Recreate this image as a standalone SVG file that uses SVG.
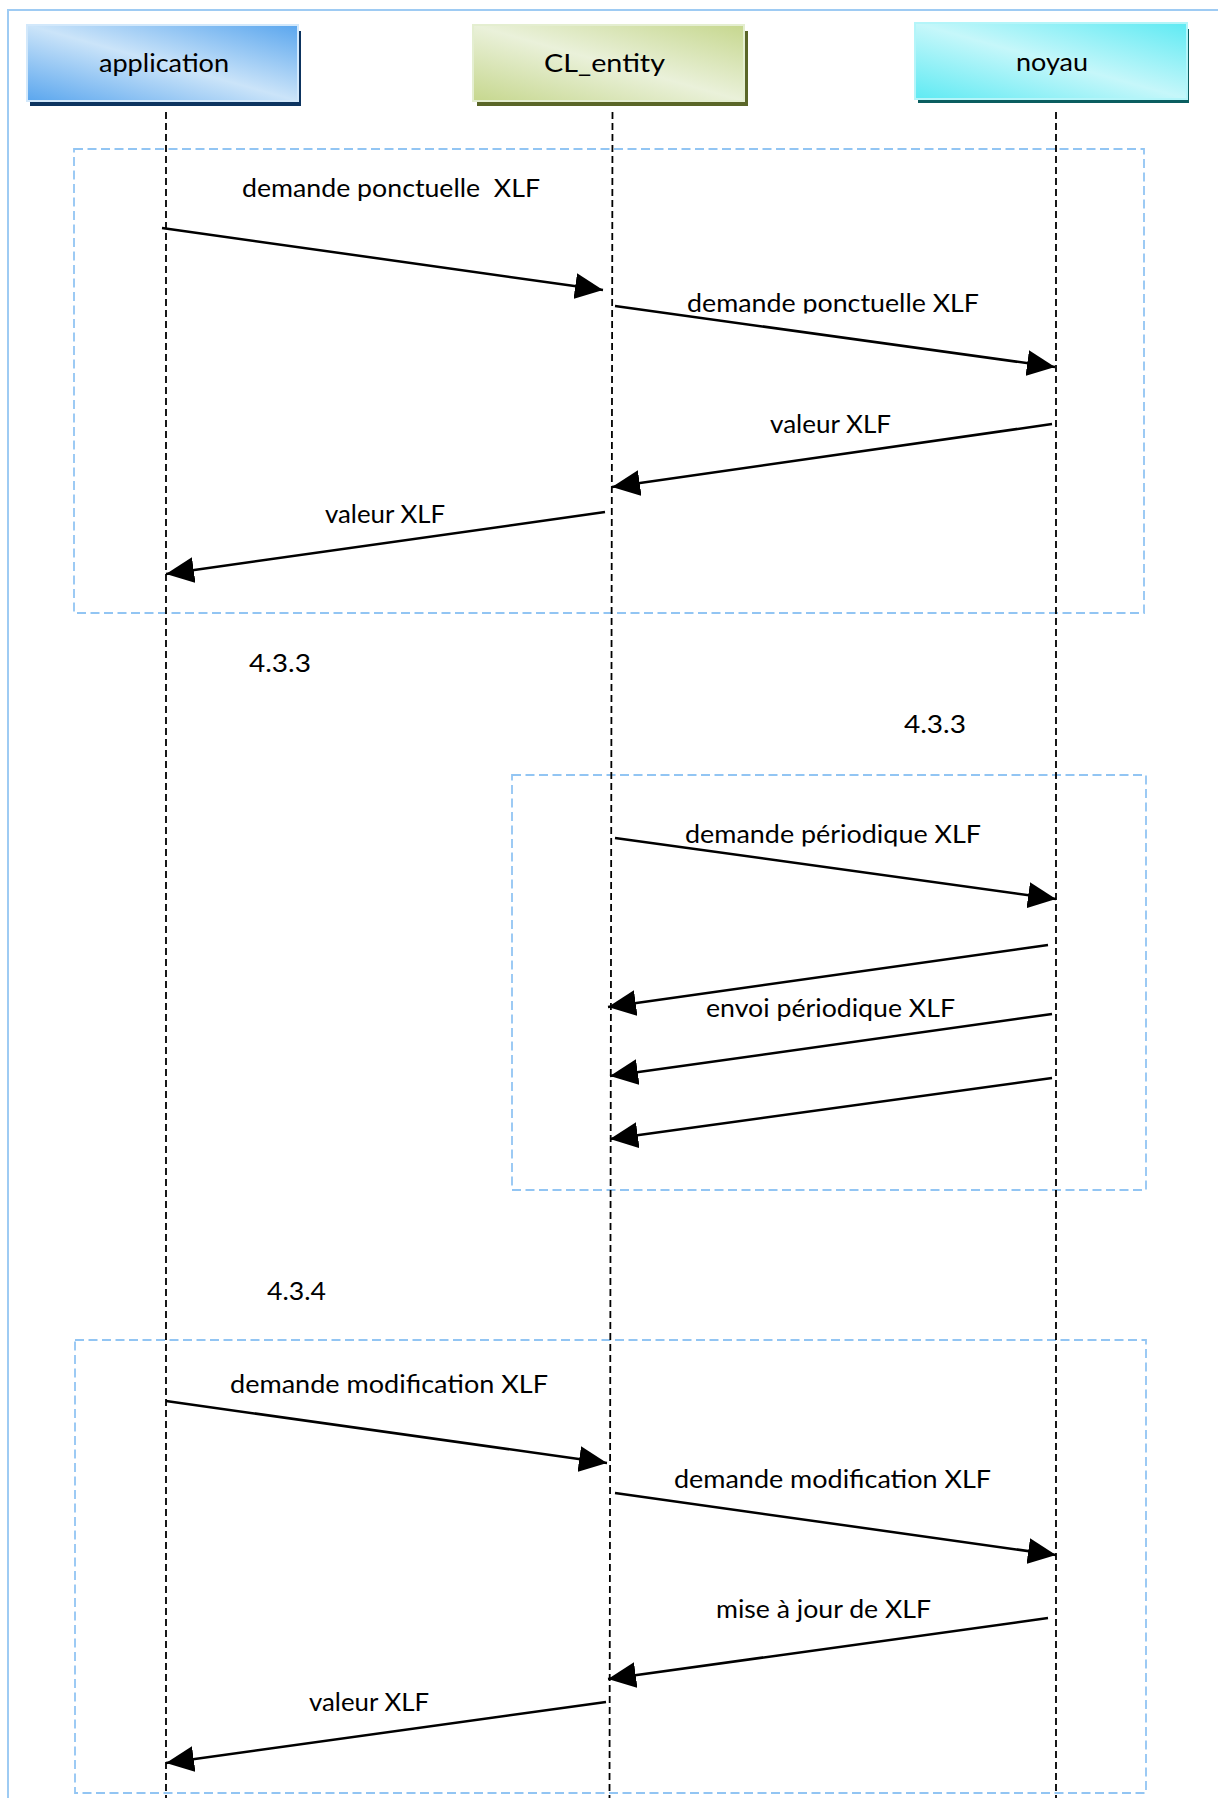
<svg xmlns="http://www.w3.org/2000/svg" width="1218" height="1798" viewBox="0 0 1218 1798">
<defs>
<linearGradient id="gApp" x1="0" y1="1" x2="1" y2="0"><stop offset="0" stop-color="#5aa6ee"/><stop offset="0.5" stop-color="#cbe4f9"/><stop offset="1" stop-color="#5aa6ee"/></linearGradient>
<linearGradient id="gCl" x1="0" y1="1" x2="1" y2="0"><stop offset="0" stop-color="#c6d78e"/><stop offset="0.5" stop-color="#eaf1da"/><stop offset="1" stop-color="#c6d78e"/></linearGradient>
<linearGradient id="gNo" x1="0" y1="1" x2="1" y2="0"><stop offset="0" stop-color="#5eeaf3"/><stop offset="0.5" stop-color="#c6f7fa"/><stop offset="1" stop-color="#5eeaf3"/></linearGradient>
<marker id="ah" markerUnits="userSpaceOnUse" viewBox="0 0 28 26" markerWidth="28" markerHeight="26" refX="28" refY="13" orient="auto"><path d="M0,0 L28,13 L0,26 Z" fill="#000"/></marker>
<clipPath id="c1"><rect x="600" y="270" width="450" height="43.5"/></clipPath>
<clipPath id="c2"><rect x="600" y="800" width="450" height="46.5"/></clipPath>
<clipPath id="c3"><rect x="650" y="1580" width="400" height="42"/></clipPath>
</defs>
<style>
text{font-family:Lato,"Open Sans","Liberation Sans",sans-serif;font-size:25px;fill:#000}
.life{stroke:#000;stroke-width:1.8;stroke-dasharray:7 4;fill:none}
.frag{fill:none;stroke:#92c5f3;stroke-width:1.8;stroke-dasharray:9 4.5}
.msg{stroke:#000;stroke-width:2.5;fill:none;marker-end:url(#ah)}
</style>
<rect id="frame" x="8" y="10" width="1230" height="1810" fill="none" stroke="#9ecbf3" stroke-width="2"/>
<g id="fragment1"><rect class="frag" x="74" y="149" width="1070" height="464"/></g>
<g id="fragment2"><rect class="frag" x="512" y="775" width="634" height="415"/></g>
<g id="fragment3"><rect class="frag" x="75" y="1340" width="1071" height="453"/></g>
<text x="249" y="672" textLength="62" lengthAdjust="spacingAndGlyphs">4.3.3</text>
<text x="904" y="733" textLength="62" lengthAdjust="spacingAndGlyphs">4.3.3</text>
<text x="267" y="1300" textLength="59" lengthAdjust="spacingAndGlyphs">4.3.4</text>
<g id="application">
<rect x="30" y="31" width="271" height="75" fill="#0d3460"/>
<rect x="27" y="25" width="271" height="76" fill="url(#gApp)" stroke="#d2e8fb" stroke-width="2"/>
<text x="99" y="72" textLength="130" lengthAdjust="spacingAndGlyphs">application</text>
<line class="life" x1="166" y1="112" x2="166" y2="1798"/>
</g>
<g id="CL_entity">
<rect x="477" y="31" width="271" height="75" fill="#5a6628"/>
<rect x="473" y="25" width="271" height="76" fill="url(#gCl)" stroke="#e4eed0" stroke-width="2"/>
<text x="544" y="72" textLength="121" lengthAdjust="spacingAndGlyphs">CL_entity</text>
<line class="life" x1="612.5" y1="112" x2="609.5" y2="1798"/>
</g>
<g id="noyau">
<rect x="918" y="29" width="271" height="74" fill="#0a5e60"/>
<rect x="915" y="23" width="272" height="76" fill="url(#gNo)" stroke="#b4f5f9" stroke-width="2"/>
<text x="1016" y="71" textLength="72" lengthAdjust="spacingAndGlyphs">noyau</text>
<line class="life" x1="1056" y1="112" x2="1056" y2="1798"/>
</g>
<g id="connectors">
<line class="msg" x1="162" y1="228" x2="603" y2="290"/>
<text x="242" y="197" textLength="298" lengthAdjust="spacingAndGlyphs" xml:space="preserve">demande ponctuelle  XLF</text>
<line class="msg" x1="615" y1="306" x2="1055" y2="367"/>
<text x="687" y="312" textLength="292" lengthAdjust="spacingAndGlyphs" clip-path="url(#c1)">demande ponctuelle XLF</text>
<line class="msg" x1="1052" y1="424" x2="612" y2="487"/>
<text x="770" y="433" textLength="121" lengthAdjust="spacingAndGlyphs">valeur XLF</text>
<line class="msg" x1="605" y1="512" x2="166" y2="574"/>
<text x="325" y="523" textLength="120" lengthAdjust="spacingAndGlyphs">valeur XLF</text>
<line class="msg" x1="615" y1="838" x2="1056" y2="899"/>
<text x="685" y="843" textLength="296" lengthAdjust="spacingAndGlyphs" clip-path="url(#c2)">demande périodique XLF</text>
<line class="msg" x1="1048" y1="945" x2="608" y2="1007"/>
<line class="msg" x1="1052" y1="1014" x2="610" y2="1076"/>
<text x="706" y="1017" textLength="249" lengthAdjust="spacingAndGlyphs">envoi périodique XLF</text>
<line class="msg" x1="1052" y1="1078" x2="610" y2="1139"/>
<line class="msg" x1="166" y1="1401" x2="607" y2="1463"/>
<text x="230" y="1393" textLength="318" lengthAdjust="spacingAndGlyphs">demande modification XLF</text>
<line class="msg" x1="615" y1="1493" x2="1056" y2="1555"/>
<text x="674" y="1488" textLength="317" lengthAdjust="spacingAndGlyphs">demande modification XLF</text>
<line class="msg" x1="1048" y1="1618" x2="608" y2="1679"/>
<text x="716" y="1618" textLength="215" lengthAdjust="spacingAndGlyphs" clip-path="url(#c3)">mise à jour de XLF</text>
<line class="msg" x1="606" y1="1702" x2="166" y2="1763"/>
<text x="309" y="1711" textLength="120" lengthAdjust="spacingAndGlyphs">valeur XLF</text>
</g>
</svg>
